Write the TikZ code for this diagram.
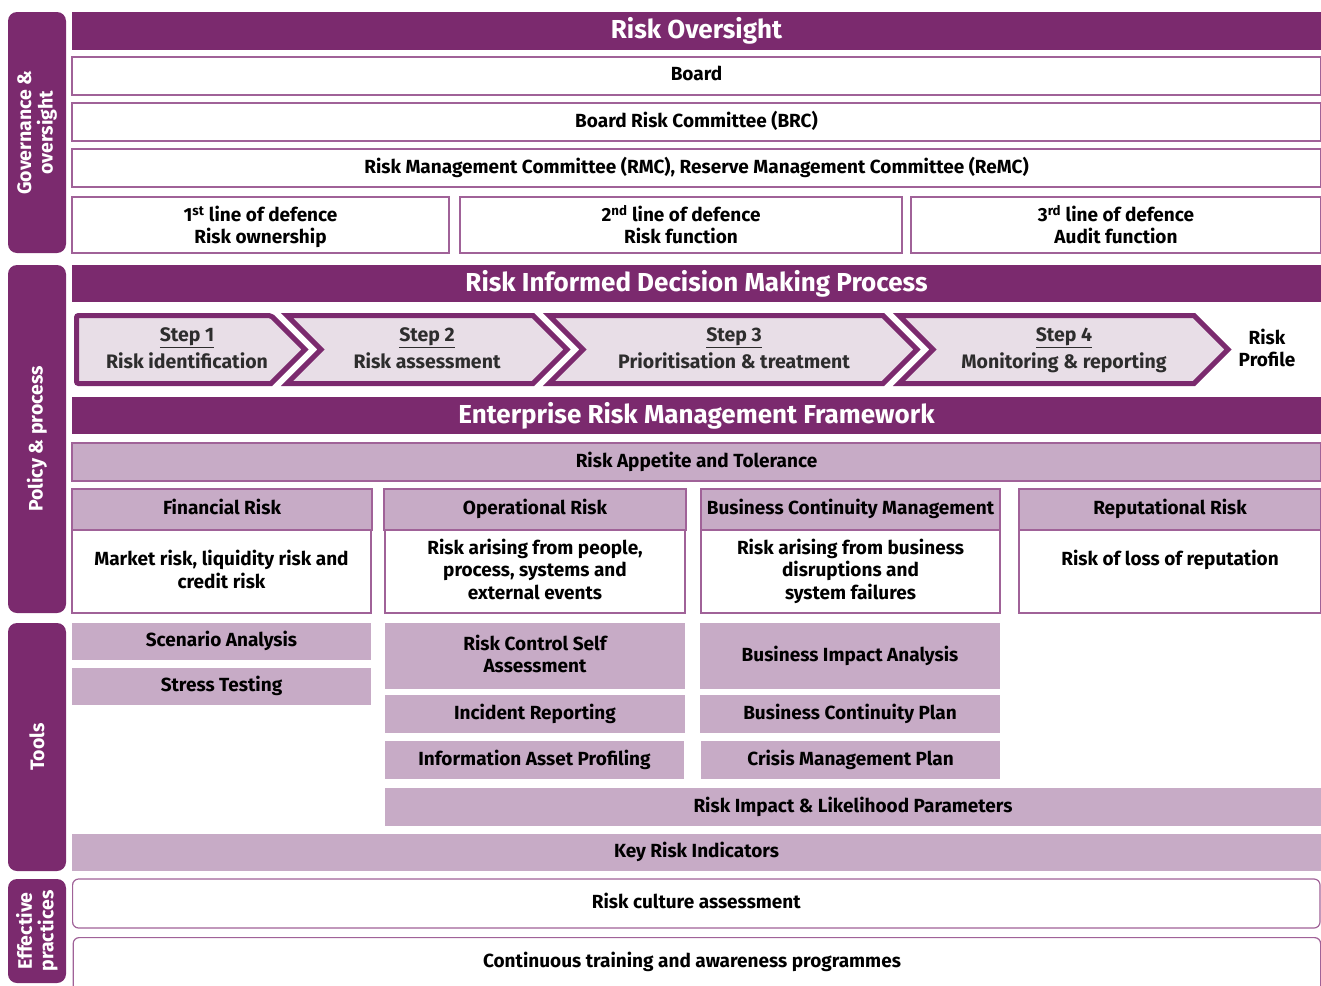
\documentclass[tikz,border=0pt]{standalone}
\usepackage{fontspec}
\setmainfont{Fira Sans}
\definecolor{dpurple}{RGB}{123,42,110}
\definecolor{lpurple}{RGB}{199,171,198}
\definecolor{edge}{RGB}{160,98,152}
\definecolor{stepfill}{RGB}{232,222,231}
\definecolor{steptext}{RGB}{45,45,45}
% box from (x1,y1) to (x2,y2), in pixel-like units
\newcommand\bx[7]{\node[#2, minimum width={#5-#3}, minimum height={#6-#4}] (#1) at ({(#3+#5)/2},{(#4+#6)/2}) {#7};}
\newcommand\sidebx[6]{\node[side, minimum width={#5-#3}, minimum height={#4-#2}] (#1) at ({(#2+#4)/2},{(#3+#5)/2}) {#6};}
\newcommand\sups[1]{\smash{\textsuperscript{#1}}}
\begin{document}
\begin{tikzpicture}[x=1pt,y=-1pt,
  txt/.style={font=\fontsize{19}{22.5}\selectfont\bfseries, align=center, inner sep=0pt, text depth=4.5pt},
  band/.style={fill=dpurple, text=white, inner sep=0pt, text depth=6pt, font=\fontsize{26}{30}\selectfont\bfseries},
  wbox/.style={txt, draw=edge, line width=1.2pt, fill=white},
  lodbox/.style={wbox, text depth=0pt},
  hbox/.style={txt, draw=edge, line width=1.2pt, fill=lpurple},
  tbox/.style={txt, fill=lpurple},
  rbox/.style={wbox, rounded corners=6pt},
  side/.style={fill=dpurple, rounded corners=9pt, text=white, rotate=90, inner sep=0pt,
    font=\fontsize{19.5}{21.5}\selectfont\bfseries, align=center},
  chev/.style={draw=dpurple, fill=stepfill, line width=5pt, line join=miter},
  steplbl/.style={txt, text=steptext, font=\fontsize{19.5}{27}\selectfont\bfseries}]
\useasboundingbox (0,0) rectangle (1321,985);
\clip (0,0) rectangle (1321,985);

% side labels
\sidebx{gov}{8}{12}{66}{253}{Governance \&\\oversight}
\sidebx{pol}{8}{265}{66}{613}{Policy \& process}
\sidebx{tools}{8}{623}{66}{871}{Tools}
\sidebx{eff}{8}{879}{66}{983}{Effective\\practices}

% governance
\bx{oversight}{band}{72}{12}{1321}{50}{Risk Oversight}
\bx{board}{wbox}{72}{57}{1321}{95}{Board}
\bx{brc}{wbox}{72}{103}{1321}{141}{Board Risk Committee (BRC)}
\bx{rmc}{wbox}{72}{149}{1321}{187}{Risk Management Committee (RMC), Reserve Management Committee (ReMC)}
\bx{lod1}{lodbox}{72}{197}{449}{253}{1\sups{st} line of defence\\Risk ownership}
\bx{lod2}{lodbox}{460}{197}{902}{253}{2\sups{nd} line of defence\\Risk function}
\bx{lod3}{lodbox}{911}{197}{1321}{253}{3\sups{rd} line of defence\\Audit function}

% decision making process
\bx{ridm}{band}{72}{265}{1321}{302}{Risk Informed Decision Making Process}
\draw[chev, rounded corners=2pt] (76.5,315.5) -- (271,315.5) [sharp corners] -- (305,349.5) -- (271,383.5) [rounded corners=2pt] -- (76.5,383.5) -- cycle;
\draw[chev] (287,315.5) -- (533,315.5) -- (567,349.5) -- (533,383.5) -- (287,383.5) -- (321,349.5) -- cycle;
\draw[chev] (549,315.5) -- (883,315.5) -- (917,349.5) -- (883,383.5) -- (549,383.5) -- (583,349.5) -- cycle;
\draw[chev] (899,315.5) -- (1194,315.5) -- (1228,349.5) -- (1194,383.5) -- (899,383.5) -- (933,349.5) -- cycle;
\node[steplbl] (s1) at (187,350) {\underline{Step 1}\\Risk identification};
\node[steplbl] (s2) at (427,350) {\underline{Step 2}\\Risk assessment};
\node[steplbl] (s3) at (734,350) {\underline{Step 3}\\Prioritisation \& treatment};
\node[steplbl] (s4) at (1064,350) {\underline{Step 4}\\Monitoring \& reporting};
\node[txt] (profile) at (1267,350) {Risk\\Profile};

% framework
\bx{erm}{band}{72}{397}{1321}{434}{Enterprise Risk Management Framework}
\bx{appetite}{hbox}{72}{443}{1321}{481}{Risk Appetite and Tolerance}
\bx{fin}{hbox}{72}{489}{372}{530}{Financial Risk}
\bx{finb}{wbox}{72}{530}{371}{613}{Market risk, liquidity risk and\\credit risk}
\bx{ops}{hbox}{384}{489}{686}{530}{Operational Risk}
\bx{opsb}{wbox}{385}{530}{685}{613}{Risk arising from people,\\process, systems and\\external events}
\bx{bcm}{hbox}{701}{489}{1000}{530}{Business Continuity Management}
\bx{bcmb}{wbox}{701}{530}{1000}{613}{Risk arising from business\\disruptions and\\system failures}
\bx{rep}{hbox}{1019}{489}{1321}{530}{Reputational Risk}
\bx{repb}{wbox}{1019}{530}{1321}{613}{Risk of loss of reputation\\\mbox{}}

% tools
\bx{scen}{tbox}{72}{623}{371}{660}{Scenario Analysis}
\bx{stress}{tbox}{72}{668}{371}{705}{Stress Testing}
\bx{rcsa}{tbox}{385}{623}{685}{689}{Risk Control Self\\Assessment}
\bx{incid}{tbox}{385}{695}{685}{733}{Incident Reporting}
\bx{iap}{tbox}{385}{741}{684}{779}{Information Asset Profiling}
\bx{bia}{tbox}{700}{623}{1000}{689}{Business Impact Analysis}
\bx{bcp}{tbox}{700}{695}{1000}{733}{Business Continuity Plan}
\bx{cmp}{tbox}{701}{741}{1000}{779}{Crisis Management Plan}
\bx{ril}{tbox}{385}{788}{1321}{826}{Risk Impact \& Likelihood Parameters}
\bx{kri}{tbox}{72}{834}{1321}{871}{Key Risk Indicators}

% effective practices
\bx{culture}{rbox}{72.6}{879}{1320}{928}{Risk culture assessment}
\node[rbox, minimum width=1247.4, minimum height=60, anchor=north west] (training) at (72.6,937) {};
\node[txt] (trainlbl) at (692,962) {Continuous training and awareness programmes};
\end{tikzpicture}
\end{document}
